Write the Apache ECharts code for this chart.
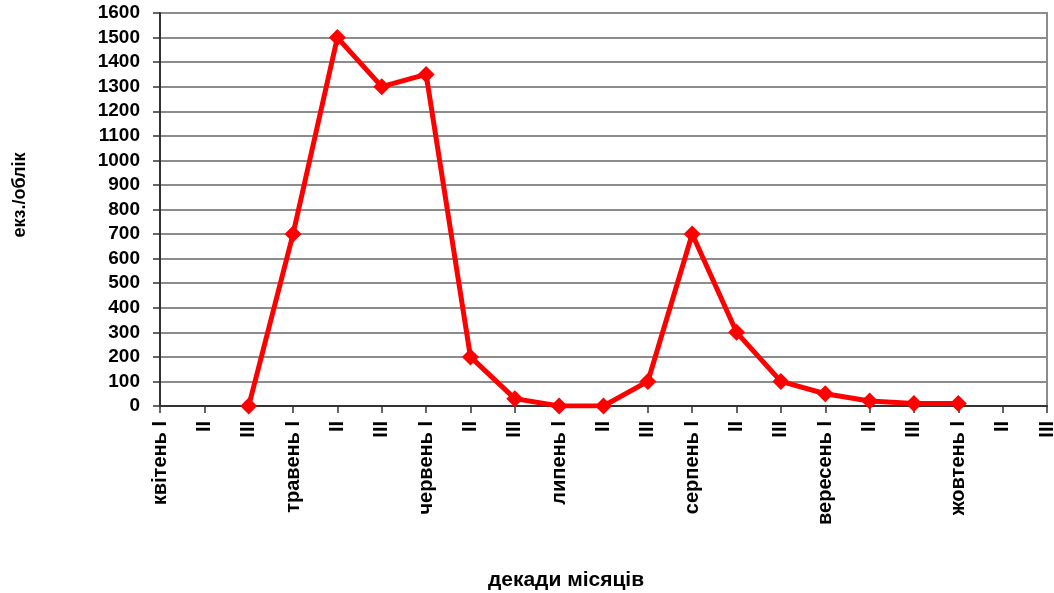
<!DOCTYPE html>
<html>
<head>
<meta charset="utf-8">
<script src="https://cdn.jsdelivr.net/npm/echarts@6/dist/echarts.min.js"></script>
<style>
  html, body { margin: 0; padding: 0; background: #fff; }
  #chart { width: 1054px; height: 593px; }
</style>
</head>
<body>
<div id="chart"></div>
<script>
// Decades of each month, April to October
const categories = [
  'квітень I', 'II', 'III',
  'травень I', 'II', 'III',
  'червень I', 'II', 'III',
  'липень I', 'II', 'III',
  'серпень I', 'II', 'III',
  'вересень I', 'II', 'III',
  'жовтень I', 'II', 'III'
];

// Specimens per count
const counts = [
  null, null, 0,
  700, 1500, 1300,
  1350, 200, 30,
  0, 0, 100,
  700, 300, 100,
  50, 20, 10,
  10, null, null
];

const yTicks = { min: 0, max: 1600, interval: 100 };

const xTitle = 'декади місяців';
const yTitle = 'екз./облік';

const font = 'Liberation Sans, Arial, sans-serif';

const chart = echarts.init(document.getElementById('chart'));
chart.setOption({
  animation: false,
  grid: {
    left: 160, right: 7, top: 13, bottom: 187,
    show: true, borderColor: '#8c8c8c', borderWidth: 2,
    containLabel: false,
    outerBoundsMode: 'none'
  },
  graphic: [
    {
      type: 'text', x: 566, y: 580,
      style: {
        text: xTitle, align: 'center', verticalAlign: 'middle',
        font: 'bold 21px ' + font, fill: '#000'
      }
    },
    {
      type: 'text', x: 20, y: 195, rotation: Math.PI / 2,
      style: {
        text: yTitle, align: 'center', verticalAlign: 'middle',
        font: 'bold 18px ' + font, fill: '#000'
      }
    }
  ],
  xAxis: {
    type: 'category',
    data: categories,
    boundaryGap: false,
    axisLine: { lineStyle: { color: '#333', width: 2 } },
    axisTick: { show: true, alignWithLabel: true, interval: 0, length: 7, lineStyle: { color: '#333', width: 1.5 } },
    axisLabel: {
      interval: 0, rotate: 90, margin: 15,
      fontFamily: font, fontWeight: 'bold', fontSize: 20, color: '#000'
    },
    splitLine: { show: false }
  },
  yAxis: {
    type: 'value',
    min: yTicks.min, max: yTicks.max, interval: yTicks.interval,
    axisLine: { show: true, lineStyle: { color: '#333', width: 2 } },
    axisTick: { show: true, length: 7, lineStyle: { color: '#333', width: 1.5 } },
    axisLabel: {
      margin: 20, fontFamily: font, fontWeight: 'bold', fontSize: 19, color: '#000',
      formatter: v => String(v)
    },
    splitLine: { show: true, lineStyle: { color: '#8c8c8c', width: 2 } }
  },
  series: [{
    type: 'line',
    data: counts,
    connectNulls: false,
    symbol: 'diamond',
    symbolSize: 17,
    itemStyle: { color: '#ff0000' },
    lineStyle: { color: '#ff0000', width: 5 }
  }]
});
</script>
</body>
</html>
